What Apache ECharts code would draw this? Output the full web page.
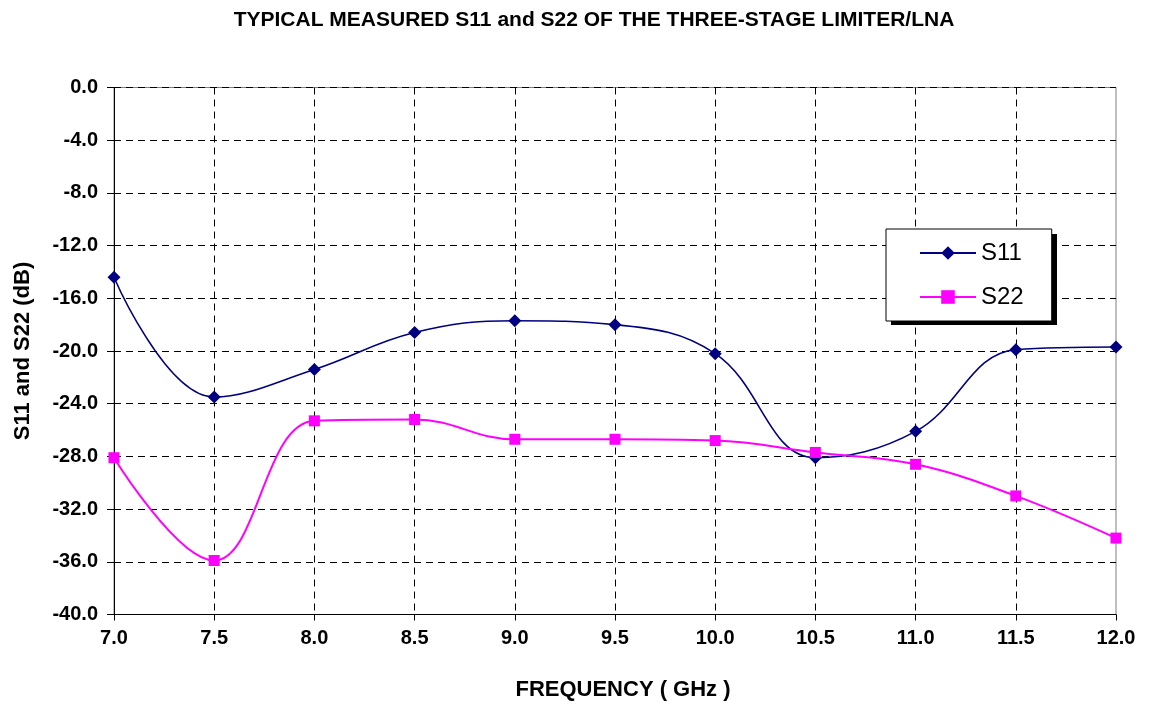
<!DOCTYPE html>
<html>
<head>
<meta charset="utf-8">
<script src="https://cdn.jsdelivr.net/npm/echarts@6/dist/echarts.min.js"></script>
<style>
html,body{margin:0;padding:0;background:#fff;}
#chart{width:1152px;height:701px;}
</style>
</head>
<body>
<div id="chart"></div>
<script>
const frequency = [7.0, 7.5, 8.0, 8.5, 9.0, 9.5, 10.0, 10.5, 11.0, 11.5, 12.0];
const s11 = [-14.4, -23.5, -21.4, -18.6, -17.7, -18.0, -20.2, -28.1, -26.1, -19.9, -19.7];
const s22 = [-28.1, -35.9, -25.3, -25.2, -26.7, -26.7, -26.8, -27.7, -28.6, -31.0, -34.2];
const titleText = 'TYPICAL MEASURED S11 and S22 OF THE THREE-STAGE LIMITER/LNA';
const xName = 'FREQUENCY ( GHz )';
const yName = 'S11 and S22 (dB)';

const FONT = '"Liberation Sans", Arial, sans-serif';
const pair = (xs, ys) => xs.map((x, i) => [x, ys[i]]);

const chart = echarts.init(document.getElementById('chart'), null, {renderer: 'canvas'});
chart.setOption({
  animation: false,
  backgroundColor: '#ffffff',
  title: {
    text: titleText,
    left: 589, top: 5, textAlign: 'center',
    textStyle: {fontFamily: FONT, fontWeight: 'bold', fontSize: 21, color: '#000'}
  },
  graphic: [{
    type: 'rect', z: 5,
    shape: {x: 891, y: 234, width: 166, height: 91},
    style: {fill: '#000'}
  }],
  grid: {
    left: 114, right: 36, top: 87.5, bottom: 86.5,
    outerBoundsMode: 'none', containLabel: false,
    show: true, borderColor: '#808080', borderWidth: 1, backgroundColor: 'transparent'
  },
  legend: {
    z: 10,
    orient: 'vertical',
    left: 886, top: 229,
    padding: [12, 28, 12, 33],
    itemWidth: 56, itemHeight: 17, itemGap: 20,
    backgroundColor: '#fff',
    borderColor: '#000', borderWidth: 1,
    textStyle: {fontFamily: FONT, fontSize: 24, color: '#000'},
    data: ['S11', 'S22']
  },
  xAxis: {
    type: 'value', min: 7, max: 12, interval: 0.5,
    name: xName, nameLocation: 'middle', nameGap: 64,
    nameTextStyle: {fontFamily: FONT, fontWeight: 'bold', fontSize: 22, color: '#000', padding: [0, 0, 0, 16]},
    axisLine: {show: true, onZero: false, lineStyle: {color: '#000', width: 1}},
    axisTick: {show: true, length: 6, lineStyle: {color: '#000'}},
    axisLabel: {margin: 14, fontFamily: FONT, fontWeight: 'bold', fontSize: 20, color: '#000',
      formatter: v => v.toFixed(1)},
    splitLine: {show: true, showMinLine: false, showMaxLine: false, lineStyle: {color: '#000', type: [7, 5], width: 1}}
  },
  yAxis: {
    type: 'value', min: -40, max: 0, interval: 4,
    name: yName, nameLocation: 'middle', nameGap: 80, nameRotate: 90,
    nameTextStyle: {fontFamily: FONT, fontWeight: 'bold', fontSize: 22, color: '#000'},
    axisLine: {show: true, onZero: false, lineStyle: {color: '#000', width: 1}},
    axisTick: {show: true, length: 7, lineStyle: {color: '#000'}},
    axisLabel: {margin: 16, fontFamily: FONT, fontWeight: 'bold', fontSize: 20, color: '#000',
      formatter: v => v.toFixed(1)},
    splitLine: {show: true, showMinLine: false, lineStyle: {color: '#000', type: [7, 5], width: 1}}
  },
  series: [
    {
      name: 'S11', type: 'line', smooth: 0.4,
      data: pair(frequency, s11),
      symbol: 'diamond', symbolSize: 13,
      lineStyle: {color: '#000080', width: 1.6},
      itemStyle: {color: '#000080'}
    },
    {
      name: 'S22', type: 'line', smooth: 0.4,
      data: pair(frequency, s22),
      symbol: 'rect', symbolSize: 11,
      lineStyle: {color: '#ff00ff', width: 2},
      itemStyle: {color: '#ff00ff'}
    }
  ]
});
</script>
</body>
</html>
